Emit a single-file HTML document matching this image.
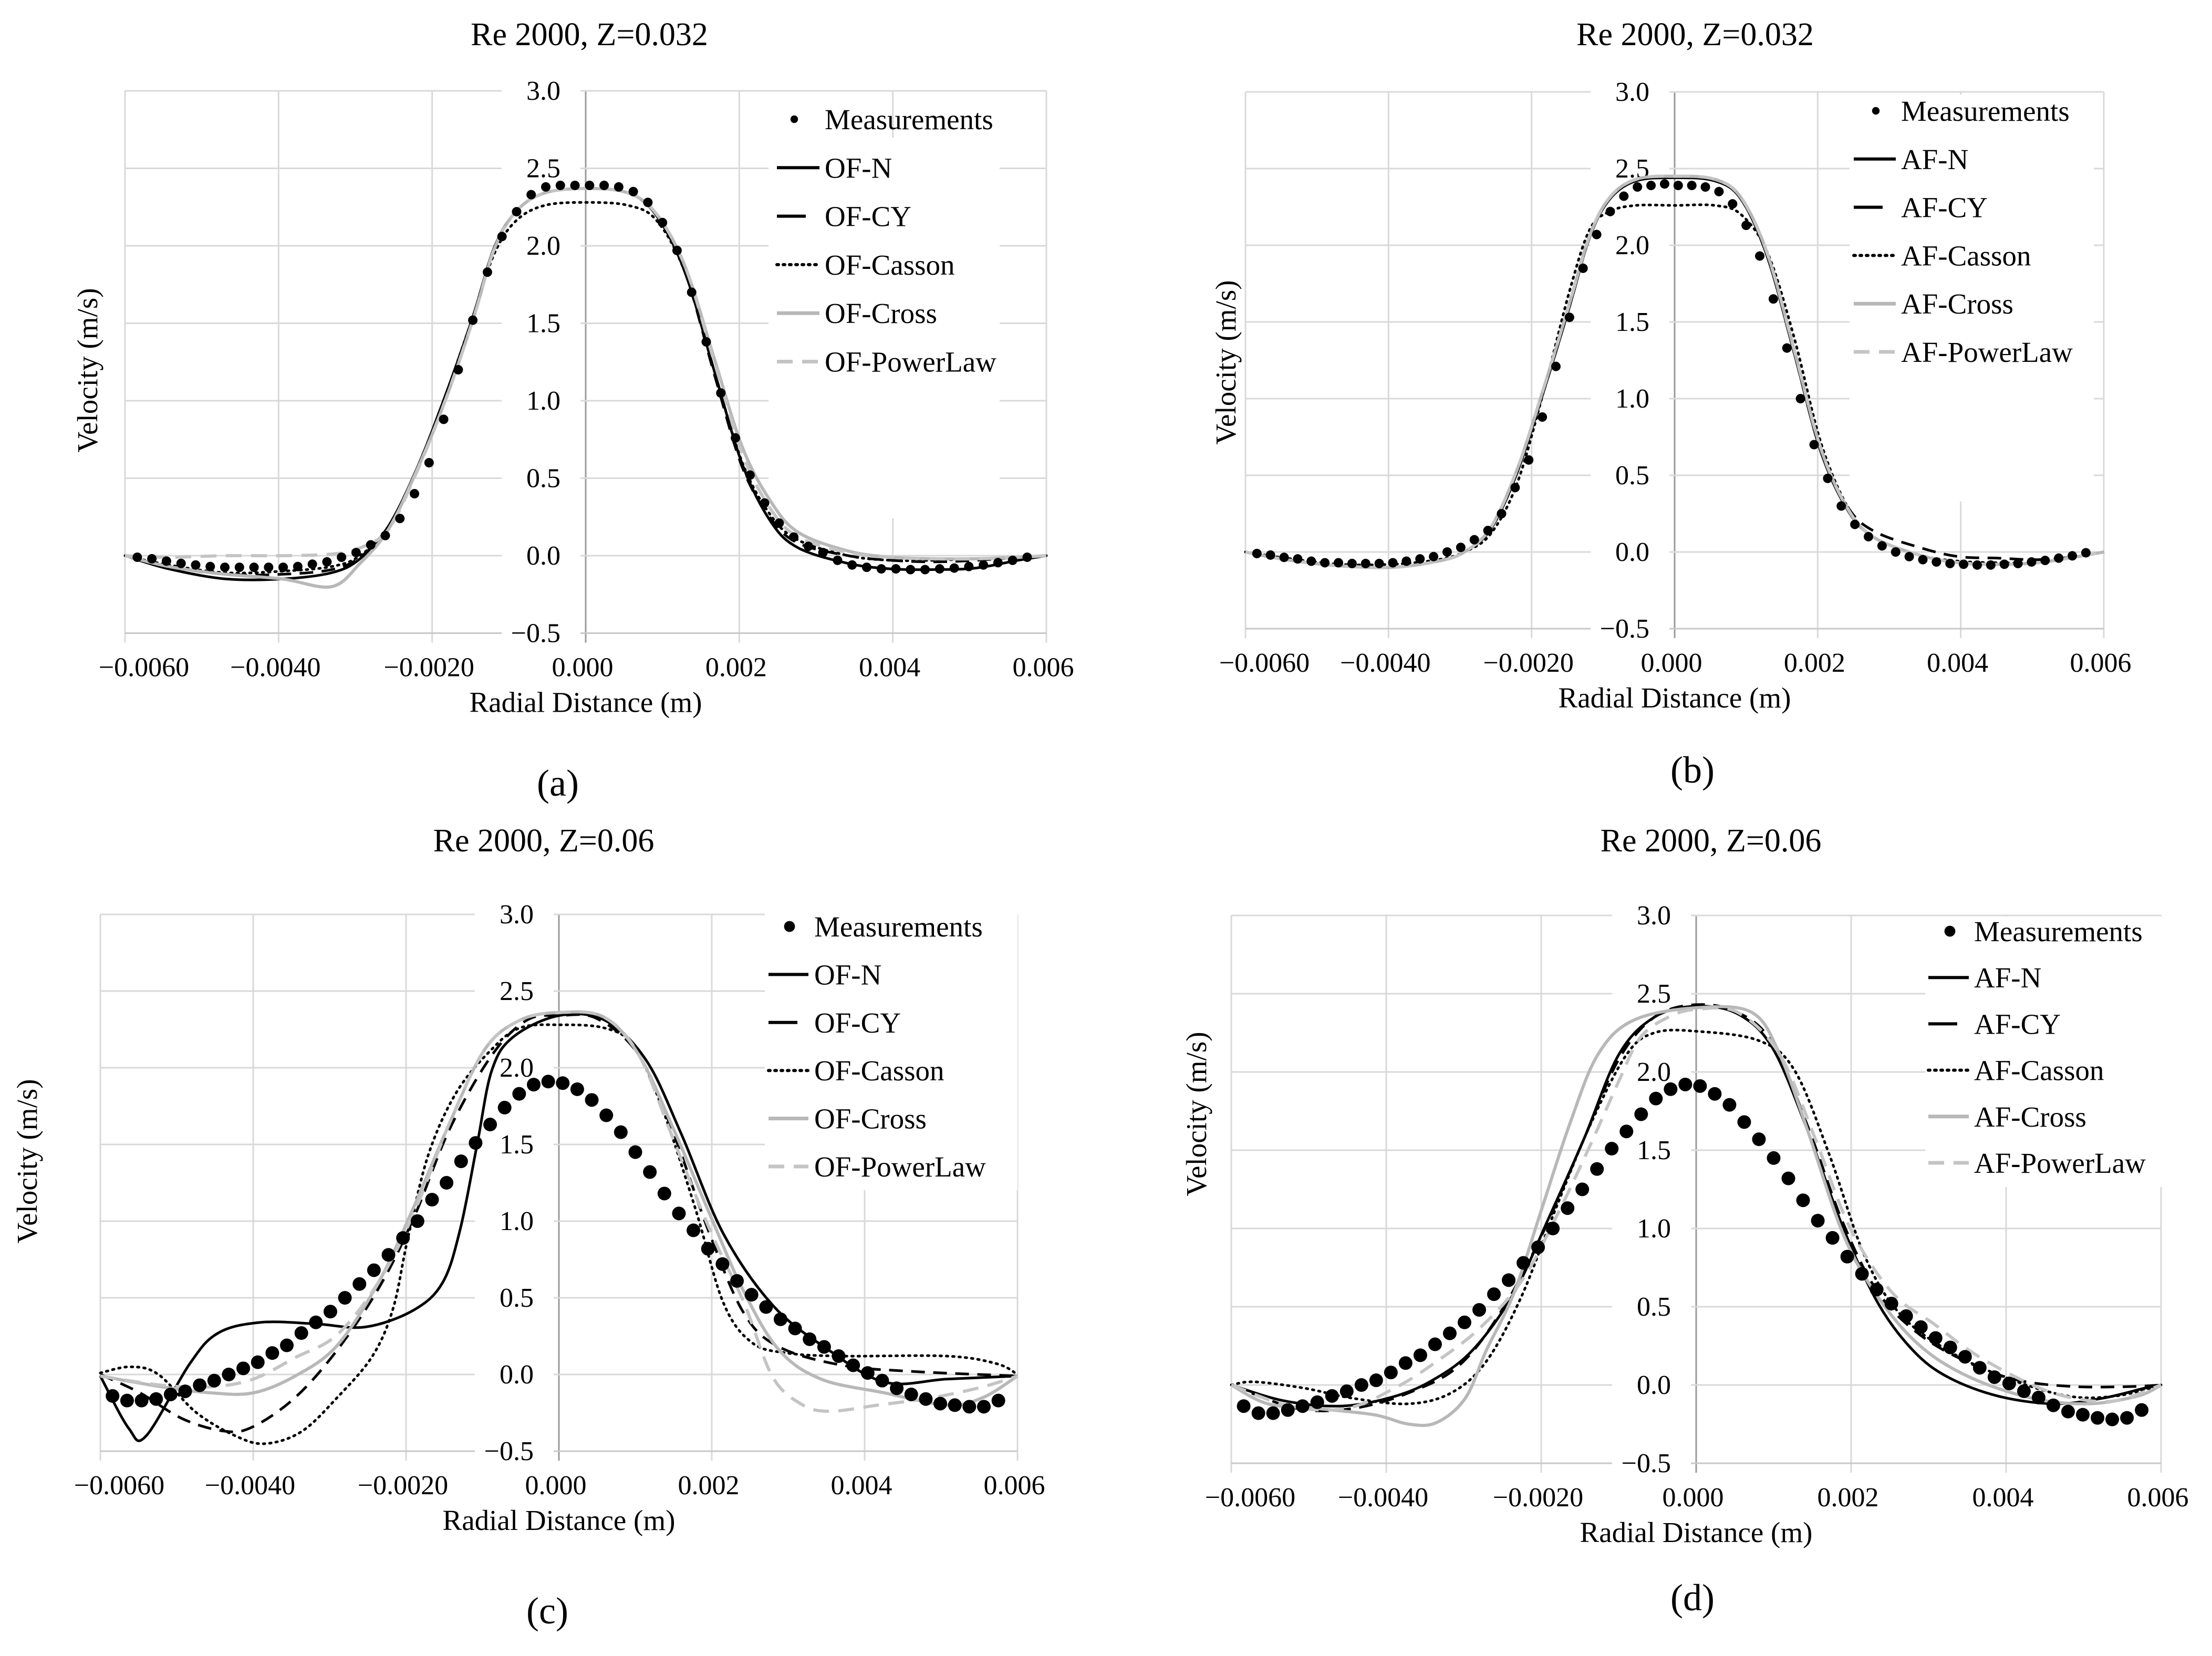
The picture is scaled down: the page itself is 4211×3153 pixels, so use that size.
<!DOCTYPE html>
<html><head><meta charset="utf-8">
<style>
html,body{margin:0;padding:0;background:#fff;}
svg{display:block;font-family:"Liberation Serif",serif;}
</style></head>
<body>
<svg id="fig" width="4211" height="3153" viewBox="0 0 4211 3153" xmlns="http://www.w3.org/2000/svg">
<rect x="0" y="0" width="4211" height="3153" fill="#fff"/>
</svg>
<script>
// ---------------- DATA (x in mm, y in m/s) ----------------
const measX = [-5.84,-5.65,-5.46,-5.27,-5.08,-4.89,-4.70,-4.51,-4.32,-4.13,-3.94,-3.75,-3.56,-3.37,-3.18,-2.99,-2.80,-2.61,-2.42,-2.23,-2.04,-1.85,-1.66,-1.47,-1.28,-1.09,-0.90,-0.71,-0.52,-0.33,-0.14,0.05,0.24,0.43,0.62,0.81,1.00,1.19,1.38,1.57,1.76,1.95,2.14,2.33,2.52,2.71,2.90,3.09,3.28,3.47,3.66,3.85,4.04,4.23,4.42,4.61,4.80,4.99,5.18,5.37,5.56,5.75];

const aMeasY = [-0.01,-0.02,-0.035,-0.05,-0.06,-0.07,-0.075,-0.075,-0.075,-0.075,-0.075,-0.07,-0.055,-0.04,-0.01,0.02,0.07,0.13,0.24,0.40,0.60,0.88,1.20,1.52,1.83,2.06,2.22,2.33,2.38,2.39,2.39,2.39,2.39,2.38,2.35,2.28,2.15,1.97,1.70,1.38,1.05,0.76,0.52,0.34,0.21,0.12,0.06,0.02,-0.03,-0.06,-0.075,-0.085,-0.085,-0.09,-0.09,-0.085,-0.08,-0.07,-0.06,-0.045,-0.03,-0.01];
const bMeasY = [-0.01,-0.02,-0.035,-0.045,-0.06,-0.07,-0.07,-0.075,-0.075,-0.075,-0.07,-0.06,-0.045,-0.03,0.0,0.03,0.08,0.14,0.25,0.42,0.60,0.88,1.21,1.53,1.85,2.07,2.22,2.32,2.38,2.39,2.40,2.39,2.39,2.38,2.35,2.27,2.13,1.93,1.65,1.33,1.00,0.70,0.48,0.30,0.18,0.10,0.04,0.0,-0.03,-0.05,-0.065,-0.075,-0.08,-0.085,-0.085,-0.08,-0.075,-0.065,-0.055,-0.04,-0.025,-0.005];
const cMeasY = [-0.14,-0.17,-0.17,-0.16,-0.13,-0.11,-0.07,-0.04,0.00,0.04,0.08,0.14,0.19,0.27,0.34,0.41,0.50,0.59,0.68,0.78,0.89,1.00,1.14,1.25,1.39,1.51,1.63,1.74,1.83,1.89,1.91,1.90,1.86,1.79,1.69,1.58,1.45,1.32,1.18,1.05,0.94,0.82,0.72,0.61,0.52,0.44,0.36,0.30,0.23,0.18,0.12,0.06,0.01,-0.04,-0.09,-0.13,-0.16,-0.19,-0.20,-0.21,-0.21,-0.17];
const dMeasY = [-0.135,-0.18,-0.18,-0.16,-0.135,-0.11,-0.07,-0.04,0.00,0.03,0.08,0.14,0.19,0.26,0.33,0.40,0.48,0.58,0.67,0.78,0.88,1.00,1.13,1.25,1.38,1.51,1.62,1.73,1.83,1.89,1.92,1.91,1.86,1.79,1.68,1.57,1.45,1.32,1.18,1.05,0.94,0.82,0.71,0.61,0.52,0.44,0.37,0.30,0.24,0.18,0.11,0.05,0.01,-0.04,-0.08,-0.13,-0.17,-0.19,-0.21,-0.22,-0.21,-0.16];

// panel a / b simulations share this x grid
const abLineX = [-6,-5.43,-4.69,-3.95,-3.31,-2.94,-2.57,-2.2,-1.83,-1.47,-1.19,-0.91,-0.54,0,0.56,0.93,1.3,1.67,2.04,2.41,2.77,3.42,3.97,4.53,5.08,5.63,6];
const aNY      = [0,-0.085,-0.15,-0.15,-0.11,-0.02,0.19,0.56,1.03,1.54,1.99,2.22,2.34,2.37,2.34,2.19,1.82,1.2,0.59,0.22,0.05,-0.05,-0.085,-0.09,-0.08,-0.03,0];
const aCYY     = [0,-0.07,-0.12,-0.12,-0.09,-0.01,0.19,0.56,1.03,1.54,1.99,2.22,2.34,2.37,2.34,2.19,1.82,1.18,0.57,0.24,0.08,0.0,-0.03,-0.04,-0.03,-0.01,0];
const aCassonY = [0,-0.06,-0.11,-0.1,-0.07,0.0,0.19,0.56,1.03,1.54,1.95,2.16,2.26,2.28,2.26,2.16,1.82,1.2,0.6,0.26,0.1,0.0,-0.03,-0.03,-0.02,-0.01,0];
const aCrossY  = [0,-0.07,-0.12,-0.15,-0.2,-0.05,0.17,0.55,1.0,1.52,1.98,2.22,2.34,2.37,2.34,2.2,1.86,1.28,0.7,0.35,0.15,0.03,-0.01,-0.02,-0.02,-0.01,0];
const aPowerY  = [0,-0.01,0.0,0.0,0.01,0.05,0.17,0.54,1.0,1.52,1.98,2.22,2.34,2.37,2.34,2.2,1.86,1.26,0.66,0.3,0.12,0.02,-0.01,-0.02,-0.02,-0.01,0];

const bNY      = [0,-0.05,-0.09,-0.1,-0.06,0.0,0.15,0.52,1.05,1.6,2.05,2.3,2.42,2.44,2.42,2.3,1.92,1.3,0.66,0.28,0.1,-0.02,-0.07,-0.08,-0.07,-0.03,0];
const bCYY     = [0,-0.05,-0.09,-0.1,-0.06,0.0,0.15,0.52,1.05,1.6,2.05,2.3,2.42,2.44,2.42,2.3,1.92,1.3,0.66,0.3,0.14,0.03,-0.03,-0.04,-0.05,-0.03,0];
const bCassonY = [0,-0.04,-0.08,-0.08,-0.05,0.0,0.12,0.45,1.05,1.7,2.1,2.22,2.26,2.26,2.26,2.2,1.95,1.4,0.72,0.3,0.1,-0.02,-0.06,-0.07,-0.07,-0.03,0];
const bCrossY  = [0,-0.05,-0.09,-0.1,-0.06,0.0,0.16,0.54,1.07,1.62,2.06,2.31,2.43,2.45,2.43,2.31,1.94,1.32,0.68,0.29,0.1,-0.02,-0.07,-0.08,-0.07,-0.03,0];
const bPowerY  = [0,-0.05,-0.09,-0.1,-0.06,0.0,0.16,0.54,1.07,1.62,2.06,2.31,2.43,2.45,2.43,2.31,1.94,1.32,0.68,0.29,0.1,-0.02,-0.07,-0.08,-0.07,-0.03,0];

// panel c
const cNX = [-6,-5.63,-5.4,-4.83,-4.46,-3.9,-3.18,-2.53,-1.9,-1.52,-1.29,-1.07,-0.88,-0.6,0,0.6,1.14,1.6,2.15,2.8,3.5,4.26,5.08,6];
const cNY = [-0.01,-0.35,-0.40,0.07,0.27,0.34,0.33,0.31,0.42,0.6,0.95,1.5,1.98,2.2,2.34,2.31,2.05,1.57,0.92,0.45,0.17,-0.05,-0.03,-0.01];
const cCYX = [-6,-5.48,-4.92,-4.37,-4.0,-3.45,-2.9,-2.35,-1.9,-1.43,-0.88,-0.42,0,0.5,1.05,1.5,1.97,2.42,2.88,3.71,4.63,6];
const cCYY = [0,-0.12,-0.29,-0.37,-0.34,-0.15,0.16,0.57,1.02,1.6,2.08,2.31,2.34,2.32,2.08,1.57,0.92,0.4,0.18,0.06,0.02,-0.01];
const cCassonX = [-6,-5.61,-5.24,-4.74,-4.19,-3.82,-3.36,-2.9,-2.44,-2.17,-1.98,-1.71,-1.34,-0.88,-0.51,0,0.59,0.96,1.32,1.78,2.15,2.52,2.98,3.71,5.08,5.73,6];
const cCassonY = [0.01,0.05,0,-0.25,-0.41,-0.45,-0.37,-0.15,0.12,0.43,0.88,1.43,1.84,2.12,2.26,2.28,2.26,2.15,1.78,1.09,0.47,0.21,0.14,0.12,0.12,0.07,0];
const cCrossX = [-6,-5.2,-4.55,-4.0,-3.45,-2.9,-2.35,-1.9,-1.43,-0.97,-0.51,0,0.59,1.05,1.5,1.97,2.42,2.88,3.43,4.26,5.08,5.55,6];
const cCrossY = [-0.01,-0.08,-0.12,-0.12,-0.01,0.19,0.61,1.09,1.64,2.12,2.31,2.36,2.33,2.08,1.6,1.05,0.54,0.16,-0.03,-0.12,-0.20,-0.15,-0.01];
const cPowerX = [-6,-5.2,-4.55,-4.0,-3.45,-2.9,-2.35,-1.9,-1.43,-0.97,-0.51,0,0.59,1.05,1.5,1.97,2.42,2.79,3.16,3.53,4.17,4.9,5.55,6];
const cPowerY = [-0.01,-0.07,-0.08,-0.03,0.11,0.26,0.61,1.05,1.64,2.12,2.31,2.36,2.33,2.08,1.53,0.95,0.47,-0.01,-0.19,-0.24,-0.20,-0.15,-0.08,-0.01];

// panel d
const dNX = [-6,-5.33,-4.61,-3.98,-3.44,-2.89,-2.35,-1.9,-1.45,-1.0,-0.54,0,0.54,0.99,1.45,1.9,2.35,2.8,3.25,3.89,4.61,5.24,5.79,6];
const dNY = [0,-0.1,-0.135,-0.085,0.02,0.22,0.59,1.07,1.57,2.11,2.35,2.42,2.37,2.15,1.61,1.0,0.52,0.22,0.05,-0.07,-0.12,-0.085,-0.02,0];
const dCYX = [-6,-5.15,-4.43,-3.71,-3.07,-2.53,-1.99,-1.45,-1.0,-0.54,0,0.54,0.99,1.45,1.9,2.35,2.89,3.53,4.16,4.88,5.61,6];
const dCYY = [0,-0.15,-0.15,-0.05,0.12,0.46,0.96,1.57,2.08,2.35,2.43,2.38,2.18,1.64,1.03,0.59,0.32,0.14,0.03,-0.01,-0.01,0];
const dCassonX = [-6,-5.7,-5.06,-4.43,-3.71,-3.16,-2.71,-2.26,-1.81,-1.36,-0.9,-0.54,0,0.81,1.27,1.72,2.17,2.62,3.25,3.98,4.79,5.42,6];
const dCassonY = [0,0.02,-0.02,-0.085,-0.12,-0.05,0.15,0.56,1.13,1.67,2.11,2.25,2.26,2.2,2.01,1.47,0.83,0.46,0.22,0.05,-0.07,-0.07,0];
const dCrossX = [-6,-5.53,-4.9,-4.16,-3.71,-3.35,-2.98,-2.71,-2.35,-1.99,-1.63,-1.27,-0.81,0,0.72,1.08,1.45,1.9,2.35,2.89,3.53,4.34,5.06,5.7,6];
const dCrossY = [0,-0.12,-0.15,-0.19,-0.25,-0.24,-0.085,0.22,0.59,1.13,1.67,2.11,2.33,2.41,2.38,2.11,1.61,0.96,0.56,0.25,0.05,-0.085,-0.12,-0.07,0];
const dPowerX = [-6,-5.24,-4.52,-3.89,-3.35,-2.8,-2.26,-1.81,-1.36,-1.0,-0.72,-0.36,0,0.54,1.08,1.54,1.99,2.53,3.07,3.62,4.34,4.88,5.42,6];
const dPowerY = [0,-0.135,-0.15,-0.02,0.15,0.36,0.66,1.07,1.54,1.94,2.22,2.35,2.4,2.38,2.11,1.57,1.0,0.59,0.39,0.19,0,-0.085,-0.1,0];

const xTickVals = [-6,-4,-2,0,2,4,6];
const xTickLabels = ["\u22120.0060","\u22120.0040","\u22120.0020","0.000","0.002","0.004","0.006"];
const yTickVals = [-0.5,0,0.5,1,1.5,2,2.5,3];
const yTickLabels = ["\u22120.5","0.0","0.5","1.0","1.5","2.0","2.5","3.0"];

// ---------------- STYLES / LAYOUT ----------------
const NS = "http://www.w3.org/2000/svg";
const svg = document.getElementById('fig');
const STY = {
  N:{stroke:"#000",dash:"",w:5},
  CY:{stroke:"#000",dash:"26 16",w:5},
  Casson:{stroke:"#000",dash:"3 9",w:5,cap:"round"},
  Cross:{stroke:"#b8b8b8",dash:"",w:6},
  Power:{stroke:"#c4c4c4",dash:"30 18",w:6}
};
function el(tag, attrs, parent){
  const e = document.createElementNS(NS, tag);
  for (const k in attrs) e.setAttribute(k, attrs[k]);
  (parent||svg).appendChild(e);
  return e;
}
function smoothPath(pts){
  let d = "M" + pts[0][0].toFixed(1) + "," + pts[0][1].toFixed(1);
  for (let i=0;i<pts.length-1;i++){
    const p0=pts[Math.max(0,i-1)], p1=pts[i], p2=pts[i+1], p3=pts[Math.min(pts.length-1,i+2)];
    const t=6;
    const c1=[p1[0]+(p2[0]-p0[0])/t, p1[1]+(p2[1]-p0[1])/t];
    const c2=[p2[0]-(p3[0]-p1[0])/t, p2[1]-(p3[1]-p1[1])/t];
    d += " C"+c1[0].toFixed(1)+","+c1[1].toFixed(1)+" "+c2[0].toFixed(1)+","+c2[1].toFixed(1)+" "+p2[0].toFixed(1)+","+p2[1].toFixed(1);
  }
  return d;
}

function drawPanel(P){
  const g = el('g',{});
  
  
  const sx = v => P.xL + (v+6)/12*(P.xR-P.xL);
  const sy = v => P.y0 - v*P.py;
  const yTop = sy(3), yBot = sy(-0.5), x0 = sx(0);
  // vertical gridlines
  xTickVals.forEach(v=>{
    const ln = el('line',{x1:sx(v),x2:sx(v),y1:yTop,y2:yBot+18,stroke: v===0?'#9a9a9a':'#d9d9d9','stroke-width':v===0?3:3},g);
    
    
  });
  yTickVals.forEach(v=>{
    const ln = el('line',{x1:P.xL,x2:P.xR,y1:sy(v),y2:sy(v),stroke:v===-0.5?'#c8c8c8':'#d9d9d9','stroke-width':3},g);
    
    
  });
  // legend box
  const lb = el('rect',{x:P.leg.bx,y:P.leg.by,width:P.leg.bw,height:P.leg.bh,fill:'#fff'},g);
  
  
  // y tick labels with white boxes
  yTickVals.forEach((v,i)=>{
    const bg = el('rect',{x:x0-160,y:sy(v)-26,width:150,height:52,fill:'#fff'},g);
    
    
    const t = el('text',{x:x0-48,y:sy(v)+17,'text-anchor':'end','font-size':52,fill:'#000'},g);
    t.textContent = yTickLabels[i];
    
    
  });
  // x tick labels
  xTickVals.forEach((v,i)=>{
    const t = el('text',{x:sx(v)+(i===0?36:-6),y:yBot+82,'text-anchor':'middle','font-size':52,fill:'#000'},g);
    t.textContent = xTickLabels[i];
    
    
  });
  // series lines
  P.series.forEach(s=>{
    const st = STY[s.key];
    const pts = s.x.map((xv,i)=>[sx(xv), sy(s.y[i])]);
    const p = el('path',{d:smoothPath(pts),fill:'none',stroke:st.stroke,'stroke-width':st.w,'stroke-dasharray':st.dash,'stroke-linecap':st.cap||'butt','stroke-linejoin':'round'},g);
    
    
  });
  // measurements
  measX.forEach((xv,i)=>{
    const c = el('circle',{cx:sx(xv),cy:sy(P.meas[i]),r:P.r,fill:'#000'},g);
    
    
  });
  // legend entries
  const names = ['Measurements'].concat(P.series.map(s=>s.name));
  names.forEach((nm,i)=>{
    const yy = P.leg.y + i*P.leg.dy;
    const eg = el('g',{},g);
    
    
    if (i===0){
      const m = el('circle',{cx:P.leg.mx,cy:yy,r:P.r*0.8,fill:'#000'},eg);
      
      
    } else {
      const st = STY[P.series[i-1].key];
      const isDash = st.dash && st.dash[0] !== '3';
      const m = el('line',{x1:P.leg.lx1,x2:isDash?P.leg.lx1+55:P.leg.lx2,y1:yy,y2:yy,stroke:st.stroke,'stroke-width':st.w+1,'stroke-dasharray':isDash?'':st.dash,'stroke-linecap':st.cap||'butt'},eg);
      
      
    }
    const t = el('text',{x:P.leg.tx,y:yy+19,'font-size':55,fill:'#000'},eg);
    t.textContent = nm;
    
    
  });
  // titles
  const tt = el('text',{x:P.title[0],y:P.title[1],'text-anchor':'middle','font-size':62,fill:'#000'},g);
  tt.textContent = P.titleText;
  
  
  const xt = el('text',{x:x0,y:yBot+150,'text-anchor':'middle','font-size':55,fill:'#000'},g);
  xt.textContent = 'Radial Distance (m)';
  
  
  const yt = el('text',{x:0,y:0,'text-anchor':'middle','font-size':55,fill:'#000',transform:'translate('+P.ylab[0]+','+P.ylab[1]+') rotate(-90)'},g);
  yt.textContent = 'Velocity (m/s)';
  
  
  const lt = el('text',{x:P.letter[0],y:P.letter[1],'text-anchor':'middle','font-size':72,fill:'#000'},g);
  lt.textContent = P.letterText;
  
  
}

drawPanel({id:'a',xL:238,xR:1992,y0:1058,py:295,r:9,meas:aMeasY,
  titleText:'Re 2000, Z=0.032',title:[1122,86],ylab:[185,705],letter:[1062,1515],letterText:'(a)',
  leg:{bx:1463,by:262,bw:440,bh:725,mx:1512,lx1:1479,lx2:1560,tx:1570,y:227,dy:92.3},
  series:[{key:'N',name:'OF-N',x:abLineX,y:aNY},{key:'CY',name:'OF-CY',x:abLineX,y:aCYY},{key:'Casson',name:'OF-Casson',x:abLineX,y:aCassonY},{key:'Cross',name:'OF-Cross',x:abLineX,y:aCrossY},{key:'Power',name:'OF-PowerLaw',x:abLineX,y:aPowerY}]});
drawPanel({id:'b',xL:2371,xR:4005,y0:1051,py:292,r:9,meas:bMeasY,
  titleText:'Re 2000, Z=0.032',title:[3227,86],ylab:[2352,690],letter:[3222,1490],letterText:'(b)',
  leg:{bx:3521,by:180,bw:465,bh:775,mx:3571,lx1:3529,lx2:3609,tx:3619,y:211,dy:91.8},
  series:[{key:'N',name:'AF-N',x:abLineX,y:bNY},{key:'CY',name:'AF-CY',x:abLineX,y:bCYY},{key:'Casson',name:'AF-Casson',x:abLineX,y:bCassonY},{key:'Cross',name:'AF-Cross',x:abLineX,y:bCrossY},{key:'Power',name:'AF-PowerLaw',x:abLineX,y:bPowerY}]});
drawPanel({id:'c',xL:191,xR:1937,y0:2617,py:292,r:13,meas:cMeasY,
  titleText:'Re 2000, Z=0.06',title:[1035,1621],ylab:[70,2211],letter:[1042,3091],letterText:'(c)',
  leg:{bx:1456,by:1736,bw:481,bh:530,mx:1503,lx1:1463,lx2:1539,tx:1550,y:1764,dy:91.4},
  series:[{key:'N',name:'OF-N',x:cNX,y:cNY},{key:'CY',name:'OF-CY',x:cCYX,y:cCYY},{key:'Casson',name:'OF-Casson',x:cCassonX,y:cCassonY},{key:'Cross',name:'OF-Cross',x:cCrossX,y:cCrossY},{key:'Power',name:'OF-PowerLaw',x:cPowerX,y:cPowerY}]});
drawPanel({id:'d',xL:2344,xR:4114,y0:2637,py:298,r:13,meas:dMeasY,
  titleText:'Re 2000, Z=0.06',title:[3257,1621],ylab:[2296,2121],letter:[3222,3066],letterText:'(d)',
  leg:{bx:3665,by:1745,bw:451,bh:515,mx:3712,lx1:3671,lx2:3748,tx:3758,y:1773,dy:88.2},
  series:[{key:'N',name:'AF-N',x:dNX,y:dNY},{key:'CY',name:'AF-CY',x:dCYX,y:dCYY},{key:'Casson',name:'AF-Casson',x:dCassonX,y:dCassonY},{key:'Cross',name:'AF-Cross',x:dCrossX,y:dCrossY},{key:'Power',name:'AF-PowerLaw',x:dPowerX,y:dPowerY}]});
</script>
</body></html>
